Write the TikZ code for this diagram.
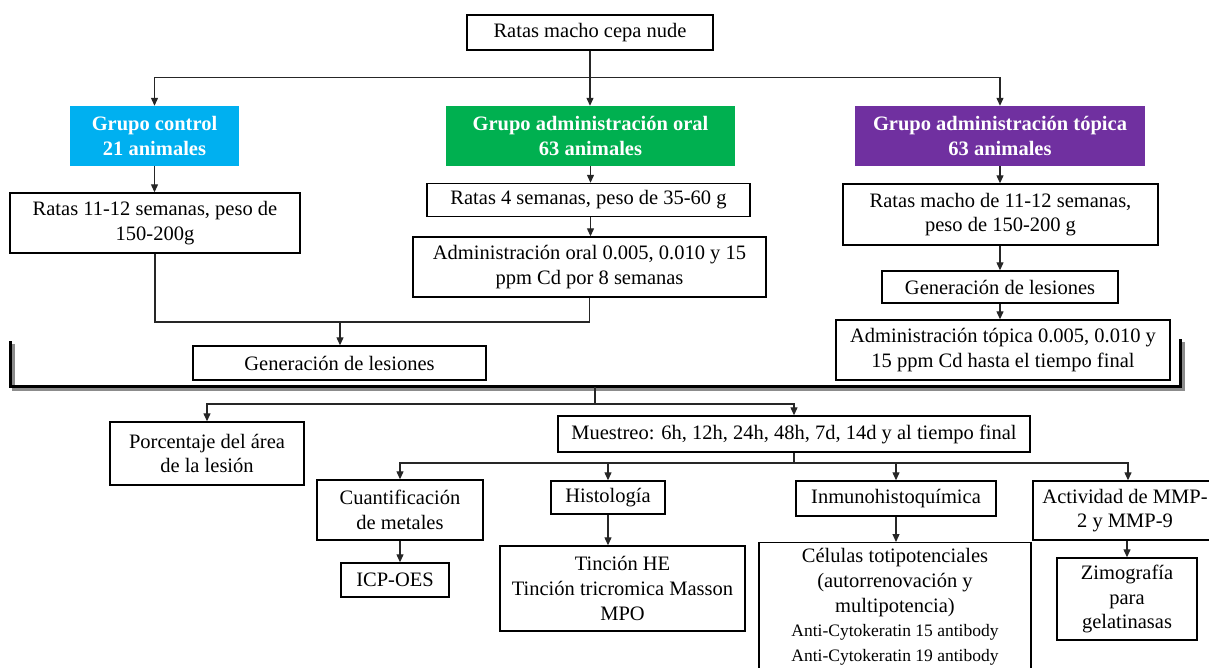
\documentclass[tikz,border=0pt]{standalone}
\usepackage{fontspec}
\setmainfont{Liberation Serif}
\usetikzlibrary{arrows.meta}
\definecolor{gcyan}{HTML}{00B0F0}
\definecolor{ggreen}{HTML}{00B050}
\definecolor{gpurple}{HTML}{7030A0}
\tikzset{
  box/.style={draw=black, line width=1.4pt, fill=white, align=center, inner sep=0pt,
    font=\fontsize{20.5}{24.6}\selectfont},
  grp/.style={align=center, inner sep=0pt, text=white,
    font=\fontsize{20.5}{24.6}\selectfont\bfseries},
  conn/.style={line width=1.2pt, draw=black!85},
  arr/.style={conn, -{Triangle[length=8pt,width=7pt]}},
  brk/.style={line width=3pt, line cap=rect}
}
\begin{document}
\begin{tikzpicture}[x=1pt,y=-1pt]
\useasboundingbox (0,0) rectangle (1209,667);
\clip (0,0) rectangle (1209,667);
% top
\node[box, minimum width=246pt, minimum height=35pt] (top) at (590,32.5) {Ratas macho cepa nude};
% groups
\node[grp, fill=gcyan, minimum width=169pt, minimum height=60pt] (ctrl) at (154.5,136) {Grupo control\\21 animales};
\node[grp, fill=ggreen, minimum width=289pt, minimum height=60pt] (oral) at (590.5,136) {Grupo administración oral\\63 animales};
\node[grp, fill=gpurple, minimum width=290pt, minimum height=60pt] (topi) at (1000,136) {Grupo administración tópica\\63 animales};
% control branch
\node[box, minimum width=290pt, minimum height=60pt] (r1) at (155,223) {Ratas 11-12 semanas, peso de\\150-200g};
% oral branch
\node[box, minimum width=323pt, minimum height=33pt] (o1) at (588.5,200) {Ratas 4 semanas, peso de 35-60 g};
\node[box, minimum width=353pt, minimum height=60pt] (o2) at (589.5,267) {Administración oral 0.005, 0.010 y 15\\ppm Cd por 8 semanas};
% topical branch
\node[box, minimum width=315pt, minimum height=61pt] (t1) at (1000.5,214.5) {Ratas macho de 11-12 semanas,\\peso de 150-200 g};
\node[box, minimum width=236pt, minimum height=32pt] (t2) at (1000,287) {Generación de lesiones};
\node[box, minimum width=334pt, minimum height=60pt] (t3) at (1003,350) {Administración tópica 0.005, 0.010 y\\15 ppm Cd hasta el tiempo final};
% lesion generation
\node[box, minimum width=293pt, minimum height=34pt] (gen) at (339.5,363) {Generación de lesiones};
% bracket
\coordinate (bl) at (10,342);
\coordinate (br) at (1180,340);
\coordinate (bm) at (595,387);
\draw[brk, draw=black!45] ([shift={(3,3)}]bl) -- ([shift={(3,3)}]10,386) -- ([shift={(3,3)}]1180,386) -- ([shift={(3,3)}]br);
\draw[brk, draw=black] (bl) -- (10,386) -- (1180,386) -- (br);
% lower part
\node[box, minimum width=194pt, minimum height=63pt] (por) at (207,453.5) {Porcentaje del área\\de la lesión};
\node[box, minimum width=472pt, minimum height=36pt] (mue) at (794,434) {Muestreo: 6h, 12h, 24h, 48h, 7d, 14d y al tiempo final};
\node[box, minimum width=166pt, minimum height=60pt] (cua) at (400,510) {Cuantificación\\de metales};
\node[box, minimum width=114pt, minimum height=33pt] (his) at (608,497.5) {Histología};
\node[box, minimum width=200pt, minimum height=35pt] (inm) at (896,498.5) {Inmunohistoquímica};
\node[box, minimum width=184pt, minimum height=59pt] (act) at (1125,510.5) {Actividad de MMP-\\2 y MMP-9};
\node[box, minimum width=108pt, minimum height=34pt] (icp) at (395,580) {ICP-OES};
\node[box, minimum width=245pt, minimum height=85pt] (tin) at (622.5,588.5) {Tinción HE\\Tinción tricromica Masson\\MPO};
\node[box, minimum width=272pt, anchor=north, inner ysep=6pt] (cel) at (895,542) {Células totipotenciales\\(autorrenovación y\\multipotencia)\\{\fontsize{17.5}{23}\selectfont Anti-Cytokeratin 15 antibody}\\{\fontsize{17.5}{23}\selectfont Anti-Cytokeratin 19 antibody}};
\node[box, minimum width=140pt, minimum height=82pt] (zim) at (1127,599) {Zimografía\\para\\gelatinasas};
% connectors top
\draw[arr] (top.south) -- ++(0,27) -| (ctrl.north);
\draw[arr] (top.south) -- ++(0,27) -| (topi.north);
\draw[arr] (top.south) -- (top.south |- oral.north);
\draw[arr] (ctrl.south) -- (ctrl.south |- r1.north);
\draw[arr] (oral.south) -- (oral.south |- o1.north);
\draw[arr] (o1.south -| oral.south) -- (oral.south |- o2.north);
\draw[arr] (topi.south) -- (topi.south |- t1.north);
\draw[arr] (t1.south -| topi.south) -- (topi.south |- t2.north);
\draw[arr] (t2.south -| topi.south) -- (topi.south |- t3.north);
\coordinate (j2) at (340,322);
\draw[conn] (r1.south) |- (j2);
\draw[conn] (o2.south) |- (j2);
\draw[arr] (j2) -- (j2 |- gen.north);
% from bracket
\draw[arr] (bm) -- ++(0,17) -| (por.north);
\draw[arr] (bm) -- ++(0,17) -| (mue.north);
% from muestreo
\coordinate (j4) at (794,463);
\draw[conn] (mue.south) -- (j4);
\draw[arr] (j4) -| (cua.north);
\draw[arr] (j4) -| (his.north);
\draw[arr] (j4) -| (inm.north);
\draw[arr] (j4) -| ([xshift=3pt]act.north);
\draw[arr] (cua.south) -- (cua.south |- icp.north);
\draw[arr] (his.south) -- (his.south |- tin.north);
\draw[arr] (inm.south) -- (inm.south |- cel.north);
\draw[arr] ([xshift=2pt]act.south) -- ([xshift=2pt]act.south |- zim.north);
\end{tikzpicture}
\end{document}
